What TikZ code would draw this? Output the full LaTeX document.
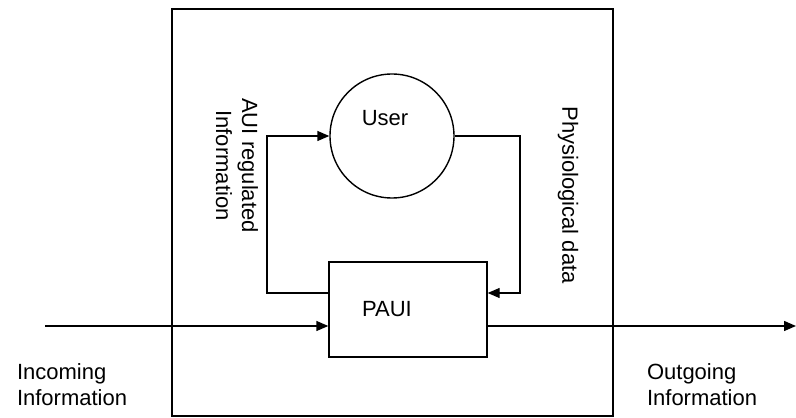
\documentclass[tikz,border=0pt]{standalone}
\usepackage{fontspec}
\setmainfont{Liberation Sans}
\usetikzlibrary{calc,arrows.meta}
\begin{document}
\begin{tikzpicture}[x=1pt,y=1pt,font=\fontsize{22}{26}\selectfont,line width=1.4pt,
  frame/.style={draw, rectangle, minimum width=441pt, minimum height=407pt, inner sep=0pt},
  blockb/.style={draw, rectangle, minimum width=158pt, minimum height=95pt, inner sep=0pt},
  person/.style={draw, circle, minimum size=124pt, inner sep=0pt},
  flow/.style={-{Triangle[length=12pt,width=10pt]}},
  vlab/.style={rotate=-90, align=center},
  ioname/.style={align=left, anchor=west}]
\useasboundingbox (0,0) rectangle (796,418);
\node[frame] (system) at (392.5,205.5) {};
\node[person] (user) at (392,282) {};
\node at ($(user)+(-7,18)$) {User};
\node[blockb] (paui) at (408,108.5) {};
\node at ($(paui)+(-21,0)$) {PAUI};
\coordinate (in) at (45,92);
\coordinate (out) at (796,92);
\coordinate (fbl) at (267,125);
\coordinate (fbr) at (520,125);
% feedback loop
\draw[flow] ($(paui.west)+(0,16.5)$) -- (fbl) |- (user.west);
\draw[flow] (user.east) -| (fbr) -- ($(paui.east)+(0,16.5)$);
% main path
\draw[flow] (in) -- ($(paui.west)+(0,-16.5)$);
\draw[flow] ($(paui.east)+(0,-16.5)$) -- (out);
\node[vlab] (aui) at (237,252.5) {AUI regulated\\Information};
\node[vlab] (phys) at (568,223) {Physiological data};
\node[ioname] (incoming) at (13,33) {Incoming\\Information};
\node[ioname] (outgoing) at (643,33) {Outgoing\\Information};
\end{tikzpicture}
\end{document}
